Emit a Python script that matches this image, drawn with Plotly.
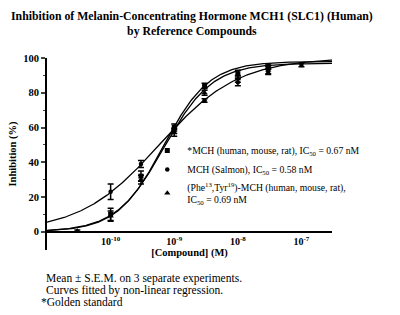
import numpy as np
import plotly.graph_objects as go

# ---- data ----
conc_mch = [1e-10, 3e-10, 1e-9, 3e-9, 1e-8, 3e-8]
inh_mch = [10, 32, 60, 84, 91, 95]
sem_mch = [3.5, 3, 2, 1.5, 2, 1.5]

conc_salmon = [1e-10, 3e-10, 1e-9, 3e-9, 1e-8, 3e-8, 1e-7]
inh_salmon = [23, 39, 58, 75.5, 86, 92, 96]
sem_salmon = [4.5, 2, 1.5, 1, 2, 1.5, 1]

conc_phe = [3e-11, 1e-10, 3e-10, 1e-9, 3e-9, 1e-8, 3e-8]
inh_phe = [0.5, 9, 30, 57, 80, 88, 93]
sem_phe = [0.5, 3, 2.5, 2, 1.5, 2, 2]

# four-parameter logistic fit parameters: bottom, top, IC50 (M), Hill slope
fit_mch = [0, 98, 0.67e-9, 1.2]
fit_salmon = [0, 100, 0.58e-9, 0.7]
fit_phe = [0, 97, 0.69e-9, 1.15]

names = [
    "*MCH (human, mouse, rat), IC<sub>50</sub> = 0.67 nM",
    "MCH (Salmon), IC<sub>50</sub> = 0.58 nM",
    "(Phe<sup>13</sup>,Tyr<sup>19</sup>)-MCH (human, mouse, rat),<br>IC<sub>50</sub> = 0.69 nM",
]
symbols = ["square", "circle", "triangle-up"]
x_tickvals = [1e-10, 1e-9, 1e-8, 1e-7]
x_ticktext = ["<b>10<sup>-10</sup></b>", "<b>10<sup>-9</sup></b>", "<b>10<sup>-8</sup></b>", "<b>10<sup>-7</sup></b>"]
y_tickvals = [0, 20, 40, 60, 80, 100]
y_ticktext = ["<b>%d</b>" % v for v in y_tickvals]

FONT = "Liberation Serif"
XR = [-11, -6.52]
YR = [-10.5, 100]
PL, PR, PT, PB = 45, 332, 58, 250  # plot area in px


def px_x(px):
    return (px - PL) / (PR - PL)


def px_y(py):
    return (PB - py) / (PB - PT)


def logistic(x, p):
    b, t, ic50, h = p
    x = np.asarray(x)
    return b + (t - b) / (1 + (ic50 / x) ** h)


fig = go.Figure()
xs = np.logspace(XR[0], XR[1], 300)
for p in (fit_mch, fit_salmon, fit_phe):
    fig.add_trace(go.Scatter(x=xs, y=logistic(xs, p), mode="lines",
                             line=dict(color="black", width=1.3),
                             showlegend=False, hoverinfo="skip"))

sets = [(conc_mch, inh_mch, sem_mch, 5), (conc_salmon, inh_salmon, sem_salmon, 4.5),
        (conc_phe, inh_phe, sem_phe, 5.5)]
for i, (cx, cy, ce, ms) in enumerate(sets):
    fig.add_trace(go.Scatter(
        x=cx, y=cy, mode="markers", name=names[i],
        marker=dict(symbol=symbols[i], color="black", size=ms),
        error_y=dict(type="data", array=ce, color="black", thickness=1.5, width=3),
    ))

fig.update_layout(
    width=400, height=315,
    margin=dict(l=PL, r=400 - PR, t=PT, b=315 - PB),
    paper_bgcolor="white", plot_bgcolor="white",
    font=dict(family=FONT, color="black", size=10),
    showlegend=True,
    legend=dict(x=px_x(146), xanchor="left", y=px_y(136), yanchor="top",
                font=dict(family=FONT, size=9.7, color="black"),
                bgcolor="rgba(0,0,0,0)", tracegroupgap=0, itemwidth=30),
    xaxis=dict(type="log", range=XR, tickmode="array", tickvals=x_tickvals, ticktext=x_ticktext,
               showline=True, linecolor="black", linewidth=2, ticks="",
               showgrid=False, zeroline=False, anchor="free",
               position=(0 - YR[0]) / (YR[1] - YR[0]),
               tickfont=dict(family=FONT, size=10),
               title=dict(text="<b>[Compound] (M)</b>", standoff=2,
                          font=dict(family=FONT, size=10.5))),
    yaxis=dict(range=YR, tickmode="array", tickvals=y_tickvals, ticktext=y_ticktext,
               showline=True, linecolor="black",
               linewidth=2, ticks="outside", ticklen=4, tickwidth=1.5,
               minor=dict(tickvals=[10, 30, 50, 70, 90], ticks="outside", ticklen=2, tickwidth=1),
               showgrid=False, zeroline=False,
               tickfont=dict(family=FONT, size=10.5),
               title=dict(text="<b>Inhibition (%)</b>", standoff=4,
                          font=dict(family=FONT, size=10.5))),
)

fig.add_annotation(
    text="<b>Inhibition of Melanin-Concentrating Hormone MCH1 (SLC1) (Human)</b><br><b>by Reference Compounds</b>",
    xref="paper", yref="paper", x=px_x(191), y=px_y(7), xanchor="center", yanchor="top",
    showarrow=False, align="center", font=dict(family=FONT, size=11.8, color="black"))

notes = [("Mean \u00b1 S.E.M. on 3 separate experiments.", 42, 278),
         ("Curves fitted by non-linear regression.", 42, 290),
         ("*Golden standard", 37, 302)]
for txt, px, py in notes:
    fig.add_annotation(text=txt, xref="paper", yref="paper",
                       x=px_x(px), y=px_y(py),
                       xanchor="left", yanchor="middle", showarrow=False,
                       font=dict(family=FONT, size=11.5, color="black"))

fig.write_html("out.html")
